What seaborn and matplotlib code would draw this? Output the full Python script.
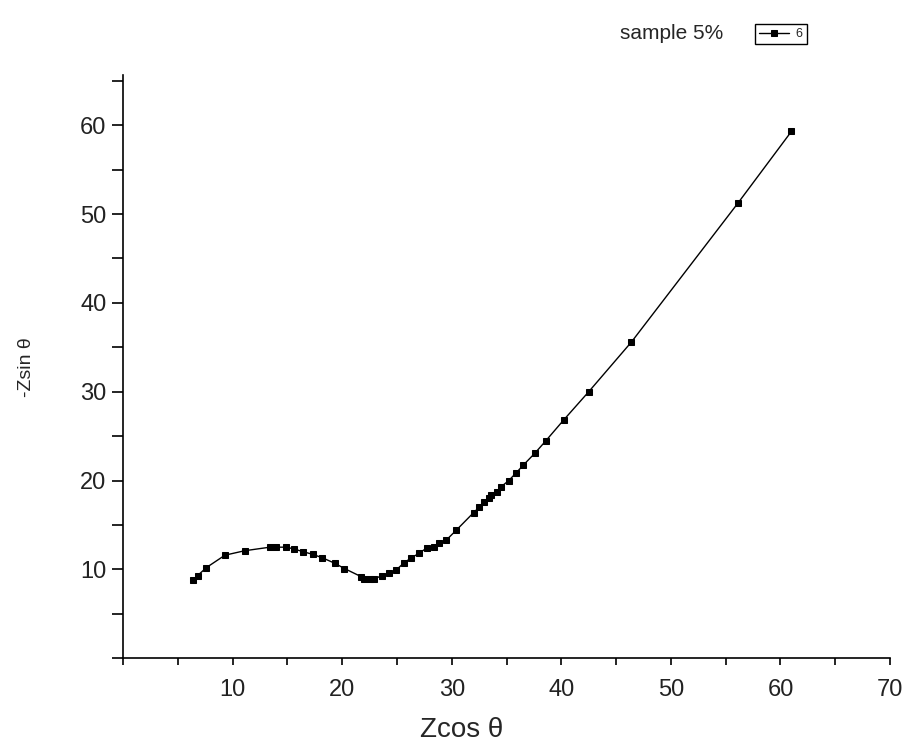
import pandas as pd
import matplotlib
matplotlib.use("Agg")
import matplotlib.pyplot as plt
import seaborn as sns
from matplotlib.ticker import MultipleLocator

# -------- DATA --------
z_real = [6.4, 6.8, 7.6, 9.3, 11.1, 13.4, 14.0, 14.9, 15.6, 16.4, 17.3, 18.2, 19.3,
          20.2, 21.7, 22.0, 22.5, 22.9, 23.6, 24.3, 24.9, 25.6, 26.3, 27.0,
          27.7, 28.4, 28.8, 29.5, 30.4, 32.0, 32.5, 32.9, 33.4, 33.6, 34.1,
          34.5, 35.2, 35.9, 36.5, 37.6, 38.6, 40.2, 42.5, 46.4, 56.1, 61.0]
z_imag = [8.8, 9.3, 10.2, 11.6, 12.1, 12.5, 12.5, 12.5, 12.3, 12.0, 11.7, 11.3, 10.7,
          10.1, 9.2, 8.9, 8.9, 8.9, 9.3, 9.6, 9.9, 10.7, 11.3, 11.8,
          12.4, 12.5, 13.0, 13.3, 14.4, 16.4, 17.0, 17.6, 18.0, 18.4, 18.7,
          19.3, 20.0, 20.9, 21.7, 23.1, 24.5, 26.8, 30.0, 35.6, 51.2, 59.3]
series_label = "6"
sample_title = "sample 5%"

df = pd.DataFrame({"Zcos": z_real, "Zsin": z_imag, "Sample": series_label})

# -------- PLOT --------
sns.set_style("white")
plt.rcParams["font.family"] = ["Liberation Sans", "DejaVu Sans"]

fig = plt.figure(figsize=(9.05, 7.54), dpi=100)
ax = fig.add_axes([0.136, 0.127, 0.8475, 0.773])

sns.lineplot(
    data=df, x="Zcos", y="Zsin", hue="Sample", palette=["black"],
    sort=False, estimator=None, marker="s", markersize=4.5,
    markeredgecolor="black", linewidth=1.0, ax=ax
)

ax.set_xlim(0, 70)
ax.set_ylim(0, 65.6)
ax.xaxis.set_major_locator(MultipleLocator(10))
ax.xaxis.set_minor_locator(MultipleLocator(5))
ax.yaxis.set_major_locator(MultipleLocator(10))
ax.yaxis.set_minor_locator(MultipleLocator(5))
ax.set_xticks(range(10, 71, 10))
ax.set_yticks(range(10, 61, 10))

for side in ["top", "right"]:
    ax.spines[side].set_visible(False)
for side in ["left", "bottom"]:
    ax.spines[side].set_color("black")
    ax.spines[side].set_linewidth(1.2)

ax.tick_params(axis="both", which="both", direction="out", color="black",
               width=1.2, labelsize=17, labelcolor="#222222",
               bottom=True, left=True)
ax.tick_params(axis="x", which="both", length=5, pad=10)
ax.tick_params(axis="y", which="both", length=8, pad=4)

ax.set_xlabel("Zcos θ", fontsize=20, labelpad=14)
ax.xaxis.set_label_coords(0.442, -0.1)
ax.set_ylabel("-Zsin θ", fontsize=14)
ax.yaxis.set_label_coords(-0.115, 0.5)

ax.legend(loc="center", bbox_to_anchor=(0.863, 0.955),
          bbox_transform=fig.transFigure, fontsize=9, frameon=True,
          fancybox=False, edgecolor="black", handlelength=2.4,
          borderpad=0.35, handletextpad=0.5, framealpha=1)
fig.text(0.685, 0.955, sample_title, fontsize=15, ha="left", va="center")

plt.savefig("out.png", dpi=100)
